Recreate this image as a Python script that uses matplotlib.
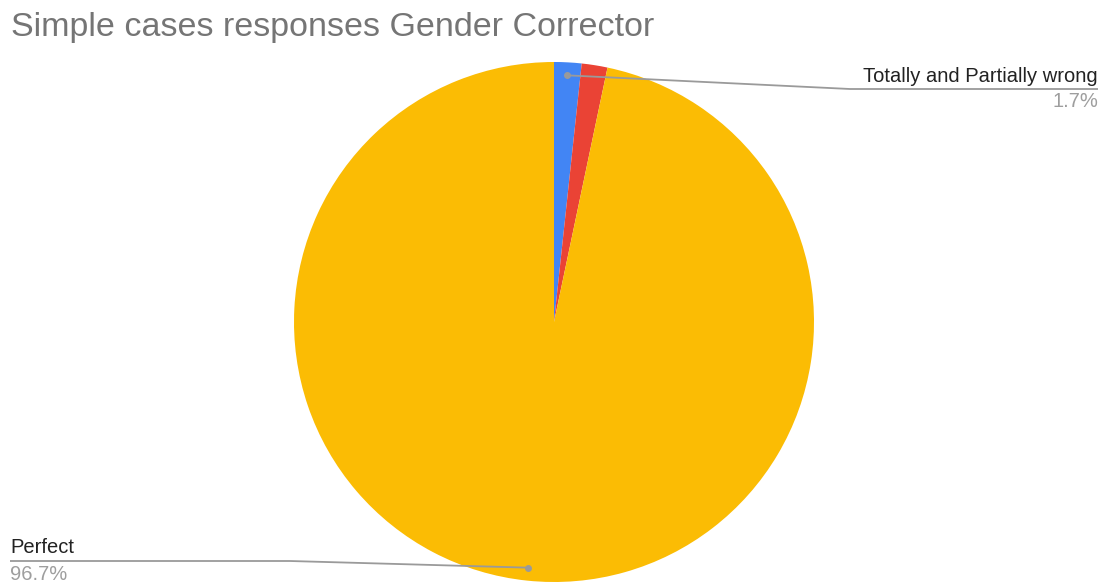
import numpy as np
import matplotlib
matplotlib.use("Agg")
import matplotlib.pyplot as plt

plt.rcParams['font.family'] = ['Liberation Sans', 'DejaVu Sans']

title = "Simple cases responses Gender Corrector"
categories = ["Totally and Partially wrong", "Partially right", "Perfect"]
values = [1.7, 1.6, 96.7]
colors = ["#4285F4", "#EA4335", "#FBBC04"]

W, H = 1104, 584
fig = plt.figure(figsize=(W / 100, H / 100), dpi=100)
ax = fig.add_axes([0, 0, 1, 1])

cx, cy, R = 554, 322, 260
start = 270
wedges, _ = ax.pie(values, colors=colors, startangle=start, counterclock=True,
                   center=(cx, cy), radius=R, frame=True,
                   wedgeprops=dict(linewidth=0))
ax.set_xlim(0, W)
ax.set_ylim(H, 0)
ax.set_aspect('equal')
ax.axis('off')

total = sum(values)
cum = np.cumsum([0] + values)

def mid_point(i, frac=0.95):
    ang = np.deg2rad(start + (cum[i] + values[i] / 2) / total * 360)
    return cx + frac * R * np.cos(ang), cy + frac * R * np.sin(ang)

line_col = "#9a9a9a"
fs = 14.5

# Label for first slice (right side)
px, py = mid_point(0)
ax.plot([px, 850, 1098], [py, 89, 89], color=line_col, lw=1.3, solid_capstyle='butt')
ax.plot(px, py, 'o', color=line_col, ms=4)
ax.text(1098, 82, categories[0], ha='right', va='baseline', fontsize=fs, color='#222222')
ax.text(1098, 107, f"{values[0]:.1f}%", ha='right', va='baseline', fontsize=fs, color='#9e9e9e')

# Label for Perfect (left side)
px, py = mid_point(2)
ax.plot([px, 290, 10], [py, 561, 561], color=line_col, lw=1.3, solid_capstyle='butt')
ax.plot(px, py, 'o', color=line_col, ms=4)
ax.text(10, 553, categories[2], ha='left', va='baseline', fontsize=fs, color='#222222')
ax.text(10, 580, f"{values[2]:.1f}%", ha='left', va='baseline', fontsize=fs, color='#9e9e9e')

ax.text(11, 36, title, ha='left', va='baseline', fontsize=24.5, color='#757575')

fig.savefig("out.png", dpi=100)
